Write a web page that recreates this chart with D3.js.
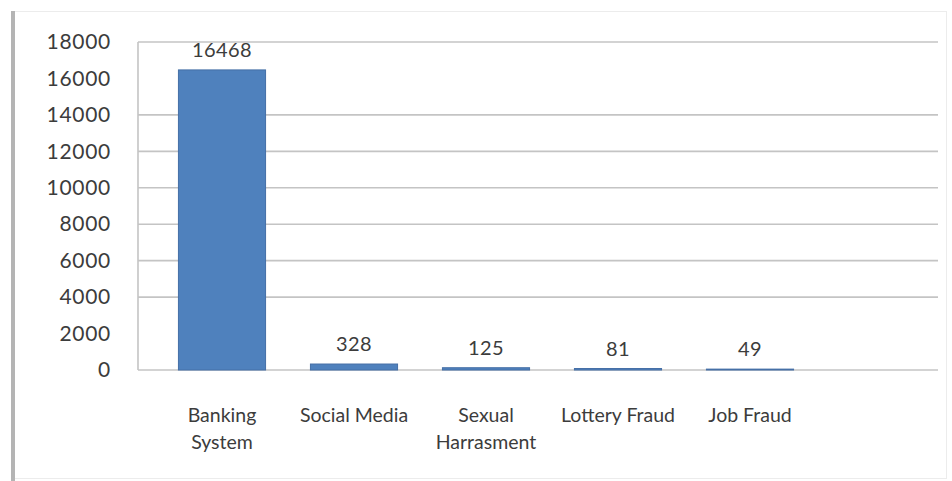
<!DOCTYPE html>
<html>
<head>
<meta charset="utf-8">
<script src="https://cdn.jsdelivr.net/npm/d3@7"></script>
<style>
  html, body { margin: 0; padding: 0; background: #ffffff; }
  svg { display: block; }
  text { font-family: Lato, "Open Sans", "DejaVu Sans", sans-serif; fill: #3c3c3c; }
</style>
</head>
<body>
<svg id="chart" width="952" height="481"></svg>
<script>
// Reported cyber-crime cases by category
const categories = ["Banking System", "Social Media", "Sexual Harrasment", "Lottery Fraud", "Job Fraud"];
const categoryLines = [["Banking", "System"], ["Social Media"], ["Sexual", "Harrasment"], ["Lottery Fraud"], ["Job Fraud"]];
const cases = [16468, 328, 125, 81, 49];
const yTicks = [0, 2000, 4000, 6000, 8000, 10000, 12000, 14000, 16000, 18000];
const gridValues = [0, 4000, 6000, 8000, 10000, 12000, 14000, 18000];

const svg = d3.select("#chart");

// chart frame
svg.append("rect")
  .attr("x", 12.5).attr("y", 11.5).attr("width", 934).attr("height", 467)
  .attr("fill", "none").attr("stroke", "#ececec").attr("stroke-width", 1);
svg.append("line")
  .attr("x1", 13).attr("x2", 13).attr("y1", 11).attr("y2", 481)
  .attr("stroke", "#b4b4b4").attr("stroke-width", 4);

const plot = { left: 138, right: 938, top: 42, bottom: 370 };

const y = d3.scaleLinear().domain([0, 18000]).range([plot.bottom, plot.top]);
const x = d3.scaleBand().domain(categories).range([156, 816]).paddingInner(0.34).paddingOuter(0.17);

// horizontal gridlines
svg.append("g").selectAll("line").data(gridValues).join("line")
  .attr("x1", plot.left).attr("x2", plot.right)
  .attr("y1", d => y(d)).attr("y2", d => y(d))
  .attr("stroke", "#c4c4c4").attr("stroke-width", 1.6);

// value axis line
svg.append("line")
  .attr("x1", plot.left).attr("x2", plot.left)
  .attr("y1", y(18000)).attr("y2", y(0))
  .attr("stroke", "#c4c4c4").attr("stroke-width", 1.6);

// y tick labels
const yAxis = d3.axisLeft(y).tickValues(yTicks).tickSize(0).tickPadding(0).tickFormat(d3.format("d"));
const yg = svg.append("g").attr("transform", `translate(${plot.left - 27},0)`).call(yAxis);
yg.select(".domain").remove();
yg.selectAll("text")
  .attr("font-size", 21).attr("letter-spacing", 0.7)
  .style("font-family", "Lato, 'Open Sans', sans-serif").attr("fill", "#3c3c3c");

// bars
svg.append("g").selectAll("rect").data(cases).join("rect")
  .attr("x", (d, i) => x(categories[i]))
  .attr("width", x.bandwidth())
  .attr("y", d => y(d))
  .attr("height", d => y(0) - y(d))
  .attr("fill", "#4f81bd")
  .attr("stroke", "#456fa6").attr("stroke-width", 1);

// value labels
svg.append("g").selectAll("text").data(cases).join("text")
  .attr("x", (d, i) => x(categories[i]) + x.bandwidth() / 2)
  .attr("y", d => y(d) - 13)
  .attr("text-anchor", "middle")
  .attr("font-size", 20)
  .attr("letter-spacing", 0.4)
  .text(d => d);

// category labels
const cg = svg.append("g").selectAll("text").data(categories).join("text")
  .attr("text-anchor", "middle")
  .attr("font-size", 19.5)
  .attr("x", d => x(d) + x.bandwidth() / 2)
  .attr("y", 422);
cg.selectAll("tspan").data((d, i) => categoryLines[i]).join("tspan")
  .attr("x", function () { return d3.select(this.parentNode).attr("x"); })
  .attr("dy", (d, i) => i === 0 ? 0 : 27)
  .text(d => d);
</script>
</body>
</html>
